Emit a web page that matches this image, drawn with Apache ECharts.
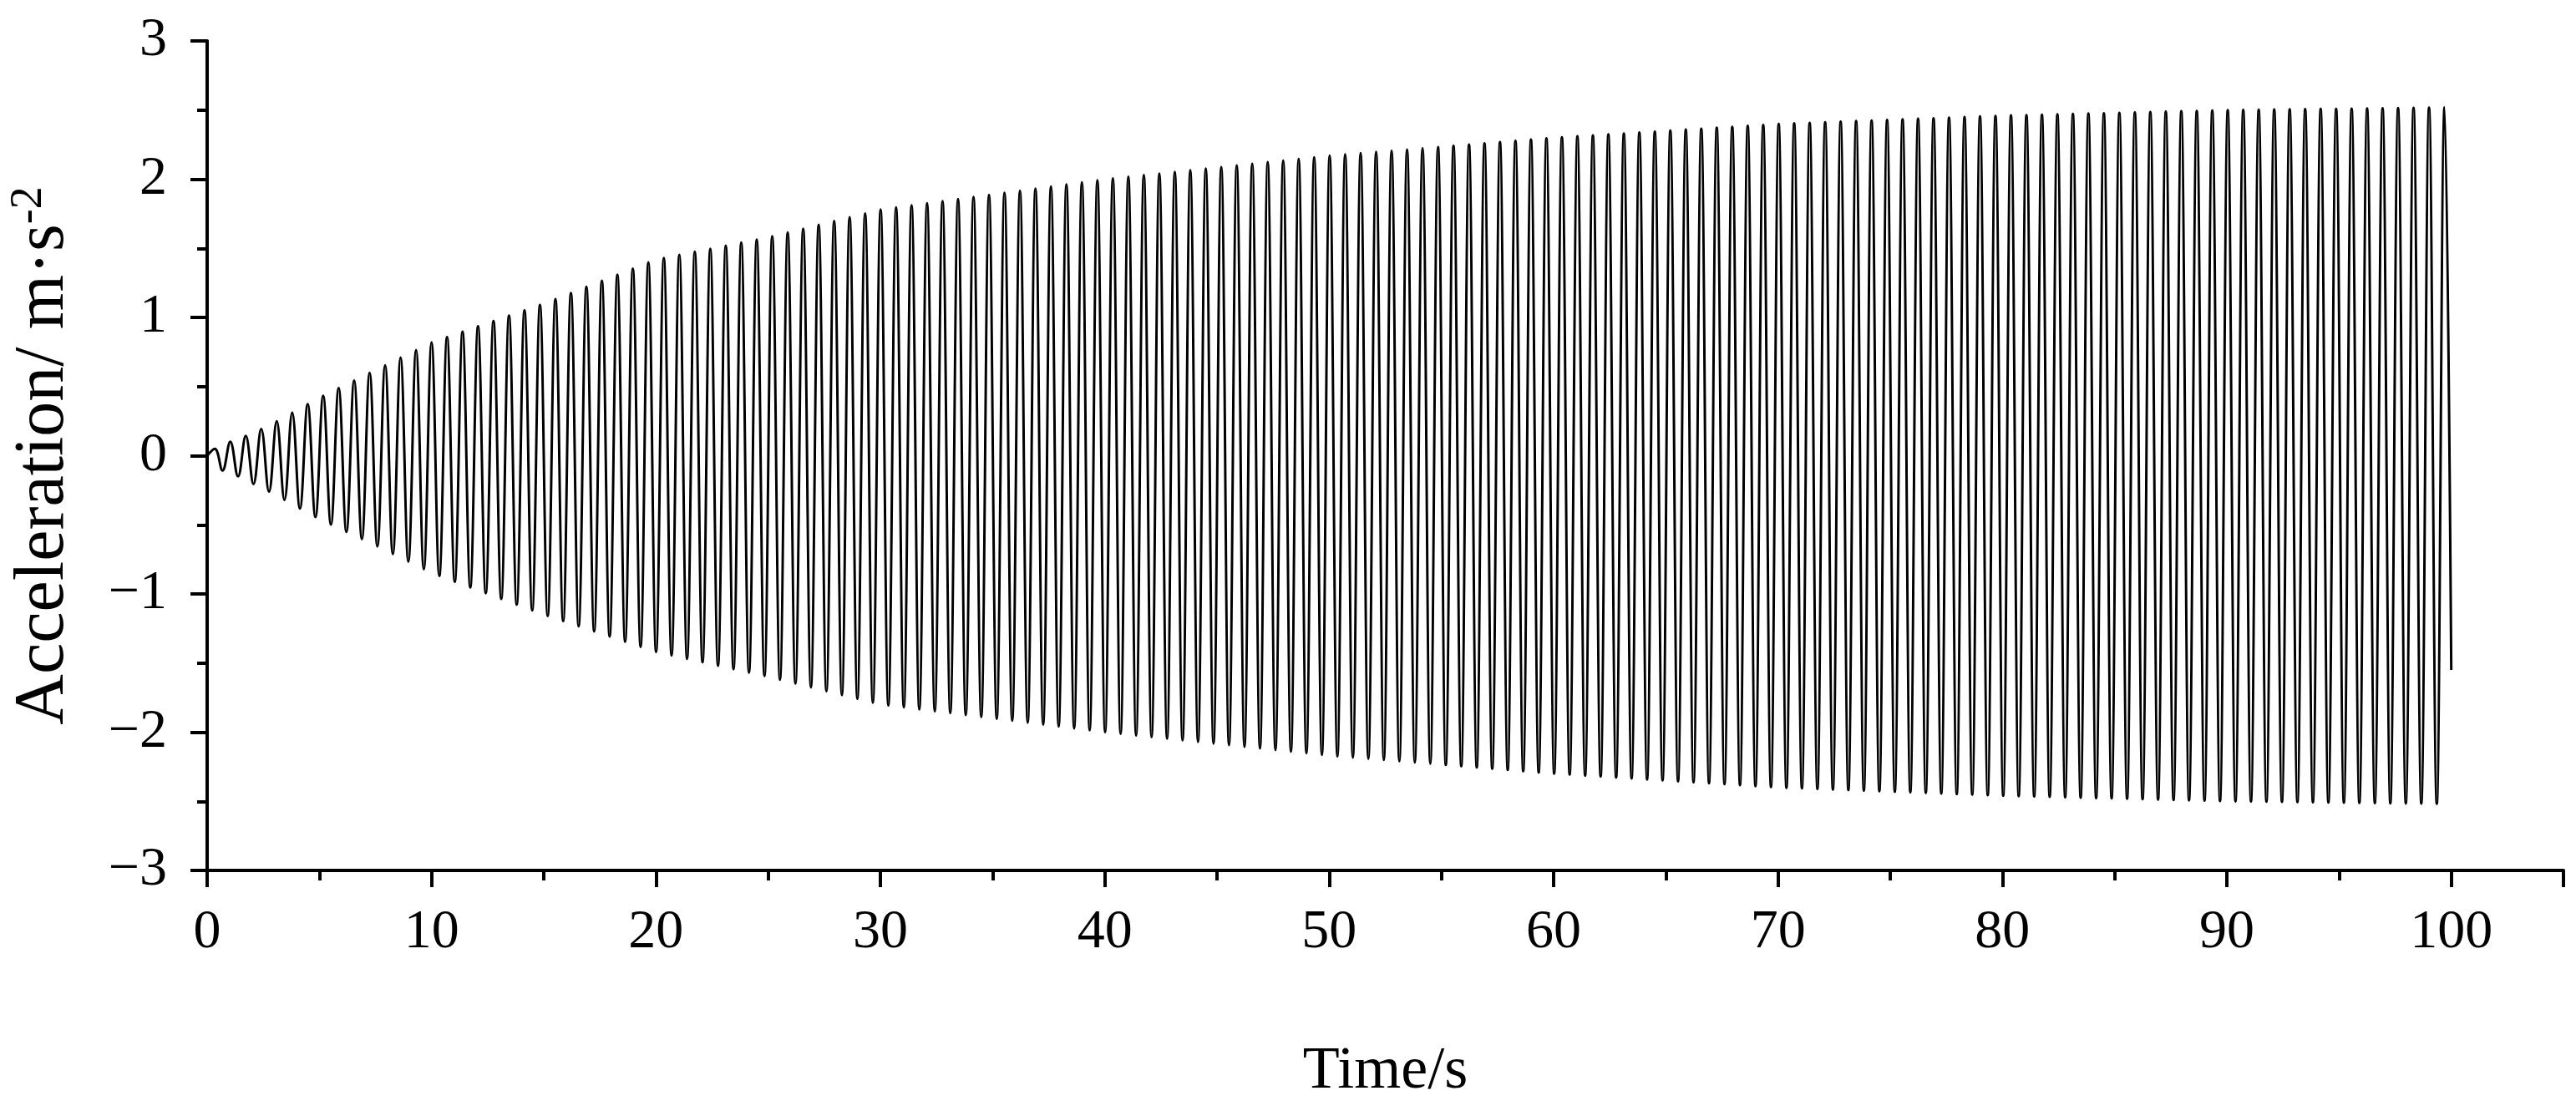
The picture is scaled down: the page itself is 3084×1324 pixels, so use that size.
<!DOCTYPE html>
<html>
<head>
<meta charset="utf-8">
<script src="https://cdn.jsdelivr.net/npm/echarts@6/dist/echarts.min.js"></script>
<style>html,body{margin:0;padding:0;background:#fff}#chart{width:3084px;height:1324px}</style>
</head>
<body>
<div id="chart"></div>
<script>
// envelope of the oscillation (time s, amplitude m/s^2)
const envTime = [0, 0.5, 1, 2, 3, 5, 7.5, 10, 15, 20, 25, 30, 40, 50, 60, 70, 80, 90, 100]
const envUpper = [0.03, 0.06, 0.1, 0.16, 0.24, 0.42, 0.62, 0.82, 1.1, 1.42, 1.58, 1.78, 2.0, 2.17, 2.3, 2.4, 2.46, 2.5, 2.52]
const envLower = [0.05, 0.1, 0.12, 0.2, 0.28, 0.46, 0.65, 0.85, 1.15, 1.42, 1.6, 1.8, 2.0, 2.17, 2.3, 2.4, 2.46, 2.5, 2.52]
// peak-to-peak period and the last readable points
const period = 0.69
const lastPeakTime = 99.7
const endPoint = [100, -1.55]
const xTicks = [0, 10, 20, 30, 40, 50, 60, 70, 80, 90, 100]

function envAt(arr, t) {
  for (let i = 1; i < envTime.length; i++) {
    if (t <= envTime[i]) {
      const f = (t - envTime[i - 1]) / (envTime[i] - envTime[i - 1])
      return arr[i - 1] + f * (arr[i] - arr[i - 1])
    }
  }
  return arr[arr.length - 1]
}

// extremes of the wave, built backwards from the last peak
const points = []
for (let t = lastPeakTime, k = 0; t > 0.1; t -= period / 2, k++) {
  const up = k % 2 === 0
  points.unshift([+t.toFixed(3), up ? envAt(envUpper, t) : -envAt(envLower, t)])
}
points.unshift([0, 0])
points.push(endPoint)

const font = 'Liberation Serif, Times New Roman, serif'
const chart = echarts.init(document.getElementById('chart'))
chart.setOption({
  animation: false,
  backgroundColor: '#fff',
  grid: { left: 233, right: 15, top: 49, bottom: 270, containLabel: false },
  xAxis: {
    type: 'value', min: 0, max: 105, interval: 10,
    name: 'Time/s', nameLocation: 'middle', nameGap: 205,
    nameTextStyle: { fontFamily: font, fontSize: 72, color: '#000' },
    axisLine: { onZero: false, lineStyle: { color: '#000', width: 4 } },
    axisTick: { inside: false, length: 20, lineStyle: { color: '#000', width: 4 } },
    minorTick: { show: true, splitNumber: 2, length: 12, lineStyle: { color: '#000', width: 4 } },
    splitLine: { show: false },
    axisLabel: {
      fontFamily: font, fontSize: 66, color: '#000', margin: 42,
      formatter: v => (xTicks.indexOf(v) >= 0 ? String(v) : '')
    }
  },
  yAxis: {
    type: 'value', min: -3, max: 3, interval: 1,
    name: 'Acceleration/ m·s{sup|-2}', nameLocation: 'middle', nameGap: 150, nameRotate: 90,
    nameTextStyle: {
      fontFamily: font, fontSize: 84, color: '#000',
      rich: { sup: { fontFamily: font, fontSize: 54, color: '#000', verticalAlign: 'top', padding: [0, 0, 36, 0] } }
    },
    axisLine: { show: true, onZero: false, lineStyle: { color: '#000', width: 4 } },
    axisTick: { inside: false, length: 20, lineStyle: { color: '#000', width: 4 } },
    minorTick: { show: true, splitNumber: 2, length: 12, lineStyle: { color: '#000', width: 4 } },
    splitLine: { show: false },
    axisLabel: {
      fontFamily: font, fontSize: 66, color: '#000', margin: 48,
      formatter: v => String(v).replace('-', '\u2212')
    }
  },
  series: [{
    type: 'line',
    data: points,
    smooth: 0.4,
    showSymbol: false,
    lineStyle: { color: '#000', width: 3 }
  }]
})
</script>
</body>
</html>
